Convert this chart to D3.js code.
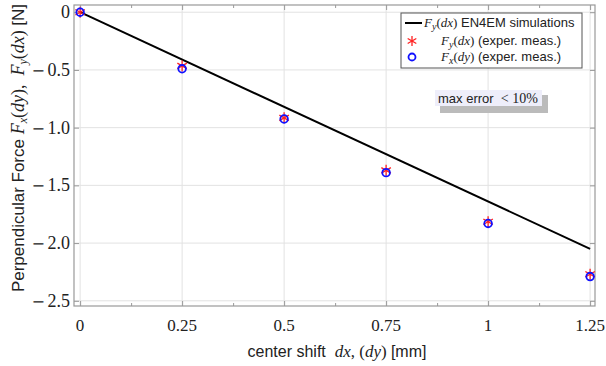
<!DOCTYPE html>
<html><head><meta charset="utf-8">
<script src="https://cdn.jsdelivr.net/npm/d3@7"></script>
<style>body{margin:0;background:#fff}svg{display:block}</style>
</head><body>
<svg id="c" width="606" height="366"></svg>
<script>
const xTicks = [0, 0.25, 0.5, 0.75, 1, 1.25];
const xTickLabels = ["0", "0.25", "0.5", "0.75", "1", "1.25"];
const yTicks = [0, -0.5, -1.0, -1.5, -2.0, -2.5];
const yTickLabels = ["0", "0.5", "1.0", "1.5", "2.0", "2.5"];
const simX = [0, 1.25];
const simY = [0, -2.05];
const measX = [0, 0.25, 0.5, 0.75, 1, 1.25];
const fyDx = [0, -0.465, -0.915, -1.37, -1.815, -2.27];
const fxDy = [0, -0.49, -0.925, -1.39, -1.83, -2.29];

const svg = d3.select("#c");
const L = 74, R = 595, T = 5, B = 306;
const x = d3.scaleLinear().domain([-0.015, 1.262]).range([L, R]);
const y = d3.scaleLinear().domain([0.0625, -2.545]).range([T, B]);

// grid
const g = svg.append("g");
g.selectAll("line.vg").data(xTicks).join("line")
  .attr("x1", d => x(d)).attr("x2", d => x(d)).attr("y1", T).attr("y2", B)
  .attr("stroke", "#e2e2e2").attr("stroke-width", 1);
g.selectAll("line.hg").data(yTicks).join("line")
  .attr("y1", d => y(d)).attr("y2", d => y(d)).attr("x1", L).attr("x2", R)
  .attr("stroke", "#e2e2e2").attr("stroke-width", 1);

// frame axes with inward ticks
const minorX = d3.range(0.125, 1.25, 0.25);
const axB = d3.axisBottom(x).tickValues(xTicks).tickSize(-5).tickFormat("");
const axT = d3.axisTop(x).tickValues(xTicks).tickSize(-5).tickFormat("");
const axL = d3.axisLeft(y).tickValues(yTicks).tickSize(-5).tickFormat("");
const axR = d3.axisRight(y).tickValues(yTicks).tickSize(-5).tickFormat("");
const axBm = d3.axisBottom(x).tickValues(minorX).tickSize(-3).tickFormat("");
const axTm = d3.axisTop(x).tickValues(minorX).tickSize(-3).tickFormat("");
function styleAx(sel){ sel.selectAll("path,line").attr("stroke","#999"); sel.select(".domain").remove(); }
[[axB,`translate(0,${B})`],[axT,`translate(0,${T})`],[axL,`translate(${L},0)`],[axR,`translate(${R},0)`],
 [axBm,`translate(0,${B})`],[axTm,`translate(0,${T})`]].forEach(([a,t])=>{
  const s = svg.append("g").attr("transform", t).call(a); styleAx(s);
});
svg.append("rect").attr("x", L).attr("y", T).attr("width", R-L).attr("height", B-T)
  .attr("fill","none").attr("stroke","#999").attr("stroke-width",1.2);

// tick labels
svg.selectAll("text.xt").data(xTicks).join("text")
  .attr("x", d => x(d)).attr("y", 331).attr("text-anchor","middle")
  .attr("font-family","Liberation Serif").attr("font-size",17).attr("fill","#222")
  .text((d,i)=>xTickLabels[i]);
const ytl = svg.selectAll("text.yt").data(yTicks).join("text")
  .attr("x", 70).attr("y", d => y(d)+6).attr("text-anchor","end")
  .attr("font-family","Liberation Serif").attr("font-size",18).attr("fill","#222");
ytl.each(function(d,i){
  const t = d3.select(this);
  if (d < 0) t.append("tspan").attr("font-family","DejaVu Serif").attr("font-size",16).text("\u2212");
  t.append("tspan").attr("dx", d < 0 ? 2.5 : 0).text(yTickLabels[i]);
});

// sim line
svg.append("path").datum(simX.map((d,i)=>[d, simY[i]]))
  .attr("d", d3.line().x(d=>x(d[0])).y(d=>y(d[1])))
  .attr("fill","none").attr("stroke","#000").attr("stroke-width",2);

// star markers
function star(sel, cx, cy, r){
  const gg = sel.append("g").attr("transform",`translate(${cx},${cy})`)
    .attr("stroke","#ff2020").attr("stroke-width",1.3);
  [90, 30, -30].forEach(a=>{
    const rad = a*Math.PI/180;
    gg.append("line").attr("x1",-r*Math.cos(rad)).attr("y1",-r*Math.sin(rad))
      .attr("x2",r*Math.cos(rad)).attr("y2",r*Math.sin(rad));
  });
}
measX.forEach((d,i)=> star(svg, x(d), y(fyDx[i]), 5.5));
svg.selectAll("circle.fx").data(measX).join("circle")
  .attr("cx", d=>x(d)).attr("cy",(d,i)=>y(fxDy[i])).attr("r",3.8)
  .attr("fill","none").attr("stroke","#1010ff").attr("stroke-width",1.8);

// legend
const lg = svg.append("g");
lg.append("rect").attr("x",401).attr("y",13).attr("width",181).attr("height",55)
  .attr("fill","#fff").attr("stroke","#555").attr("stroke-width",1);
lg.append("line").attr("x1",405).attr("x2",422).attr("y1",23).attr("y2",23).attr("stroke","#000").attr("stroke-width",2);
star(lg, 412, 41, 5);
lg.append("circle").attr("cx",412).attr("cy",57).attr("r",3.5).attr("fill","none").attr("stroke","#1010ff").attr("stroke-width",1.8);
function fTerm(t, sub, arg, restSans, xPos, yPos){
  t.attr("x", xPos).attr("y", yPos).attr("font-size",13).attr("fill","#222");
  t.append("tspan").attr("font-family","Liberation Serif").attr("font-style","italic").text("F");
  t.append("tspan").attr("font-family","Liberation Serif").attr("font-style","italic").attr("font-size",10).attr("dy",3).text(sub);
  t.append("tspan").attr("font-family","Liberation Serif").attr("dy",-3).text("(");
  t.append("tspan").attr("font-family","Liberation Serif").attr("font-style","italic").text(arg);
  t.append("tspan").attr("font-family","Liberation Serif").text(")");
  t.append("tspan").attr("font-family","Liberation Sans").text(restSans);
}
fTerm(lg.append("text"), "y", "dx", " EN4EM simulations", 424, 27);
fTerm(lg.append("text"), "y", "dx", " (exper. meas.)", 441, 45);
fTerm(lg.append("text"), "x", "dy", " (exper. meas.)", 441, 61);

// max error box
svg.append("rect").attr("x",440).attr("y",95).attr("width",108).attr("height",18).attr("fill","#bbb");
svg.append("rect").attr("x",435).attr("y",90).attr("width",107).attr("height",16).attr("fill","#eeeefa");
const me = svg.append("text").attr("x",438).attr("y",103).attr("font-size",13).attr("fill","#222");
me.append("tspan").attr("font-family","Liberation Sans").text("max error\u00a0 ");
me.append("tspan").attr("font-family","Liberation Serif").attr("font-size",14).text("< 10%");

// axis titles
const xt = svg.append("text").attr("x",337).attr("y",357).attr("text-anchor","middle").attr("font-size",16).attr("fill","#222");
xt.append("tspan").attr("font-family","Liberation Sans").text("center shift\u00a0 ");
xt.append("tspan").attr("font-family","Liberation Serif").attr("font-style","italic").attr("font-size",17).text("dx");
xt.append("tspan").attr("font-family","Liberation Serif").attr("font-size",17).text(", (");
xt.append("tspan").attr("font-family","Liberation Serif").attr("font-style","italic").attr("font-size",17).text("dy");
xt.append("tspan").attr("font-family","Liberation Serif").attr("font-size",17).text(") ");
xt.append("tspan").attr("font-family","Liberation Sans").text("[mm]");

const yt = svg.append("text").attr("transform","translate(24,148) rotate(-90)").attr("text-anchor","middle").attr("font-size",17).attr("fill","#222");
yt.append("tspan").attr("font-family","Liberation Sans").text("Perpendicular Force ");
yt.append("tspan").attr("font-family","Liberation Serif").attr("font-style","italic").attr("font-size",18).text("F");
yt.append("tspan").attr("font-family","Liberation Serif").attr("font-style","italic").attr("font-size",12).attr("dy",3).text("x");
yt.append("tspan").attr("font-family","Liberation Serif").attr("font-size",18).attr("dy",-3).text("(");
yt.append("tspan").attr("font-family","Liberation Serif").attr("font-style","italic").attr("font-size",18).text("dy");
yt.append("tspan").attr("font-family","Liberation Serif").attr("font-size",18).text("),\u00a0 ");
yt.append("tspan").attr("font-family","Liberation Serif").attr("font-style","italic").attr("font-size",18).text("F");
yt.append("tspan").attr("font-family","Liberation Serif").attr("font-style","italic").attr("font-size",12).attr("dy",3).text("y");
yt.append("tspan").attr("font-family","Liberation Serif").attr("font-size",18).attr("dy",-3).text("(");
yt.append("tspan").attr("font-family","Liberation Serif").attr("font-style","italic").attr("font-size",18).text("dx");
yt.append("tspan").attr("font-family","Liberation Serif").attr("font-size",18).text(") ");
yt.append("tspan").attr("font-family","Liberation Sans").text("[N]");
</script>
</body></html>
